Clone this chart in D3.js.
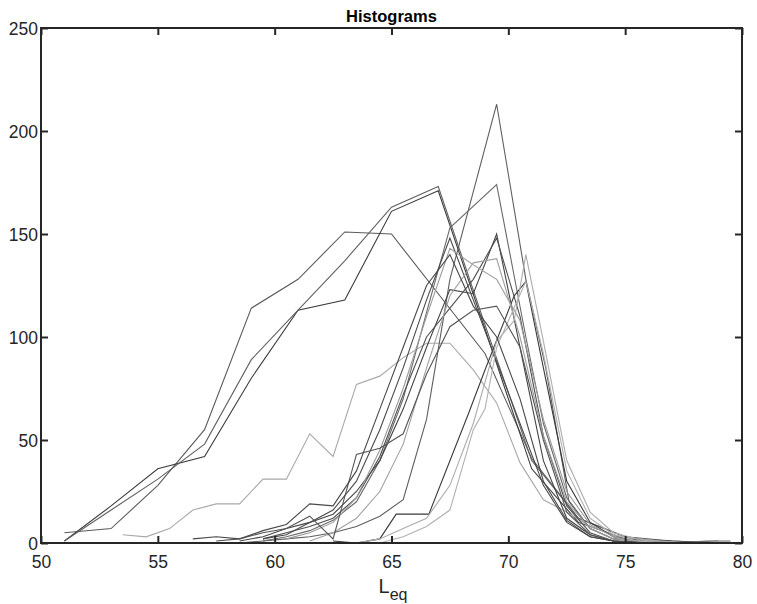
<!DOCTYPE html>
<html>
<head>
<meta charset="utf-8">
<script src="https://cdn.jsdelivr.net/npm/d3@7"></script>
<style>
body { margin: 0; background: #fff; }
text { font-family: "Liberation Sans", Arial, Helvetica, sans-serif; fill: #262626; }
</style>
</head>
<body>
<div id="chart"></div>
<script>
var xTicks = [50, 55, 60, 65, 70, 75, 80];
var yTicks = [0, 50, 100, 150, 200, 250];

// histograms: [Leq, count]
var h1 = [[51,5],[53,7],[55,28],[57,55],[59,114],[61,128],[63,151],[65,150],[67,121],[69,92],[71,41],[73,12],[75,3],[77,1],[79,0]];
var h2 = [[51,1],[53,18],[55,36],[57,42],[59,80],[61,113],[63,118],[65,161],[67,171],[69,104],[71,36],[73,10],[75,2],[77,1],[79,0]];
var h3 = [[51,1],[53,16],[55,31],[57,48],[59,89],[61,113],[63,137],[65,163],[67,173],[69,106],[71,40],[73,12],[75,3],[77,0],[79,1]];
var h4 = [[53.5,4],[54.5,3],[55.5,7],[56.5,16],[57.5,19],[58.5,19],[59.5,31],[60.5,31],[61.5,53],[62.5,42],[63.5,77],[64.5,81],[65.5,90],[66.5,97],[67.5,97],[68.5,84],[69.5,68],[70.5,39],[71.5,21],[72.5,15],[73.5,8],[74.5,4],[75.5,2],[76.5,1],[77.5,0]];
var h5 = [[58.5,0],[59.5,1],[60.5,2],[61.5,3],[62.5,5],[63.5,8],[64.5,13],[65.5,21],[66.5,60],[67.5,128],[69.5,213],[70.75,128],[71.6,85],[72.6,20],[73.5,7],[74.5,2],[75.5,1],[77,0]];
var h6 = [[59.5,1],[60.5,3],[61.5,6],[62.5,11],[63.5,20],[64.5,40],[65.5,70],[66.5,112],[67.5,153],[69.5,174],[70.75,100],[71.5,58],[72.5,22],[73.5,7],[74.5,2],[75.5,1],[77,0],[78.5,1],[79.5,1]];
var h7 = [[62.5,1],[63.5,0],[64.5,2],[65.2,14],[66.6,14],[68.3,63],[69,84],[70.25,120],[70.75,127],[71.5,85],[72.5,30],[73.5,10],[74.5,3],[75.5,1],[77,0]];
var h8 = [[58.5,1],[59.5,3],[60.5,7],[61.5,10],[62.5,14],[63.5,25],[64.5,40],[65.5,65],[66.5,95],[67.5,123],[68.5,121],[69.5,150],[70.5,95],[71.5,40],[72.5,12],[73.5,4],[74.5,1],[76,0]];
var h9 = [[59.5,2],[60.5,5],[61.5,8],[62.5,12],[63.5,22],[64.5,42],[65.5,72],[66.5,100],[67.5,114],[68.5,128],[69.5,148],[70.5,110],[71.5,52],[72.5,18],[73.5,5],[74.5,1],[76,0]];
var h10 = [[59.5,2],[60.5,4],[61.5,10],[62.5,16],[63.5,30],[64.5,55],[65.5,85],[66.5,118],[67.5,148],[68.5,118],[69.5,88],[70.5,58],[71.5,28],[72.5,10],[73.5,3],[74.5,1],[76,0]];
var h11 = [[60.5,2],[61.5,5],[62.5,10],[63.5,22],[64.5,45],[65.5,75],[66.5,110],[67.5,143],[68.5,135],[69.5,128],[70.5,108],[71.5,60],[72.5,25],[73.5,9],[74.5,3],[75.5,1],[77,0]];
var h12 = [[61.5,1],[62.5,5],[63.5,12],[64.5,25],[65.5,48],[66.5,85],[67.5,120],[68.5,136],[69.5,138],[70.5,100],[71.5,52],[72.5,20],[73.5,7],[74.5,2],[75.5,1],[77,0]];
var h13 = [[63.5,0],[64.5,2],[65.5,7],[66.5,12],[67.5,28],[68.5,58],[69.5,98],[70.25,108],[70.75,140],[71.5,98],[72.5,40],[73.5,15],[74.5,5],[75.5,2],[76.5,1],[78,0],[79.5,1]];
var h14 = [[63.5,0],[64.5,0],[65.5,3],[66.5,8],[67.5,16],[68.5,55],[69,65],[69.5,95],[70.75,127],[71.5,92],[72.5,35],[73.5,12],[74.5,4],[75.5,1],[77,0]];
var h15 = [[57.5,1],[58.5,2],[59.5,5],[60.5,7],[61.5,13],[62.5,2],[63.5,43],[64.5,46],[65.5,53],[66.5,82],[67.5,105],[68.5,113],[69.5,115],[70.5,95],[71.5,50],[72.5,15],[73.5,4],[74.5,1],[76,0]];
var h16 = [[56.5,2],[57.5,3],[58.5,2],[59.5,6],[60.5,9],[61.5,19],[62.5,18],[63.5,35],[64.5,65],[65.5,95],[66.5,125],[67.5,140],[68.5,115],[69.5,100],[70.5,70],[71.5,30],[72.5,11],[73.5,3],[74.5,1],[76,0]];

var histograms = [h1, h2, h3, h4, h5, h6, h7, h8, h9, h10, h11, h12, h13, h14, h15, h16];
var lineColors = ["#5a5a5a","#3c3c3c","#606060","#a8a8a8","#5e5e5e","#6a6a6a","#3a3a3a","#444444",
                  "#505050","#4a4a4a","#9a9a9a","#a0a0a0","#acacac","#b0b0b0","#555555","#484848"];

var width = 757,
    height = 604;

var x = d3.scaleLinear().domain([50, 80]).range([41, 742]);
var y = d3.scaleLinear().domain([0, 250]).range([543, 28]);

var svg = d3.select("#chart").append("svg")
    .attr("width", width)
    .attr("height", height);

var line = d3.line()
    .x(d => x(d[0]))
    .y(d => y(d[1]));

svg.selectAll(".hist")
    .data(histograms)
    .enter()
    .append("path")
    .attr("class", "hist")
    .attr("d", line)
    .style("fill", "none")
    .style("stroke", (d, i) => lineColors[i])
    .style("stroke-width", 1.1);

/// AXES ///
function styleAxis(g) {
    g.select(".domain").remove();
    g.selectAll(".tick line").style("stroke", "#262626").style("stroke-width", 2);
    g.selectAll(".tick text").style("font-size", "17.5px").style("fill", "#262626");
}

svg.append("g")
    .attr("transform", "translate(0," + y(0) + ")")
    .call(d3.axisBottom(x).tickValues(xTicks).tickSizeInner(-7).tickSizeOuter(0).tickPadding(13))
    .call(styleAxis);

svg.append("g")
    .attr("transform", "translate(0," + y(250) + ")")
    .call(d3.axisTop(x).tickValues(xTicks).tickSizeInner(-7).tickSizeOuter(0).tickFormat(""))
    .call(styleAxis);

svg.append("g")
    .attr("transform", "translate(" + x(50) + ",0)")
    .call(d3.axisLeft(y).tickValues(yTicks).tickSizeInner(-7).tickSizeOuter(0).tickPadding(3))
    .call(styleAxis)
    .selectAll(".tick text").attr("dy", "0.36em");

svg.append("g")
    .attr("transform", "translate(" + x(80) + ",0)")
    .call(d3.axisRight(y).tickValues(yTicks).tickSizeInner(-7).tickSizeOuter(0).tickFormat(""))
    .call(styleAxis);

// box
svg.append("rect")
    .attr("x", x(50))
    .attr("y", y(250))
    .attr("width", x(80) - x(50))
    .attr("height", y(0) - y(250))
    .style("fill", "none")
    .style("stroke", "#262626")
    .style("stroke-width", 2);

/// TITLE & LABEL ///
svg.append("text")
    .attr("x", (x(50) + x(80)) / 2)
    .attr("y", 22)
    .attr("text-anchor", "middle")
    .style("font-size", "16.5px")
    .style("font-weight", "bold")
    .style("fill", "#000")
    .text("Histograms");

var xl = svg.append("text")
    .attr("x", 378.5)
    .attr("y", 593)
    .style("font-size", "20px");
xl.append("tspan").text("L");
xl.append("tspan").attr("dy", 7).style("font-size", "16px").text("eq");
</script>
</body>
</html>
